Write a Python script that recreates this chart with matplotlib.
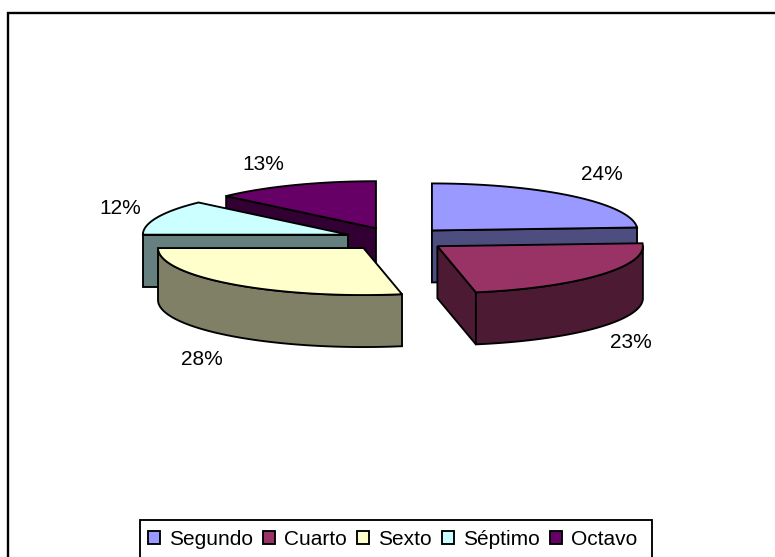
"""Exploded 3D pie chart, drawn by hand because matplotlib has no such pie."""

import matplotlib

matplotlib.use("Agg")
import matplotlib.pyplot as plt
import numpy as np
from matplotlib.patches import Patch, Polygon, Rectangle

CATEGORIES = ["Segundo", "Cuarto", "Sexto", "Séptimo", "Octavo"]
PERCENTS = [24, 23, 28, 12, 13]
COLORS = ["#9999FF", "#993366", "#FFFFCC", "#CCFFFF", "#660066"]

# pie geometry in pixels
CX, CY = 396.5, 239.0
RX, RY = 205.5, 47.0
DEPTH = 52.0
EXPLODE = 0.25
# per-label tweak on top of the computed spot
LABEL_NUDGE = [(-2, -3), (-5, 0), (-2, 3), (5, 1), (-13, 3)]

EDGE_LW = 1.35
FONT = ["Liberation Sans", "DejaVu Sans"]


def rim(theta, apex):
    """Point(s) on the pie rim; theta in degrees, clockwise from north."""
    t = np.radians(theta)
    return np.column_stack(
        [apex[0] + RX * np.sin(t), apex[1] - RY * np.cos(t)]
    )


def darker(color):
    """Excel shades the sides at half the brightness of the top."""
    return tuple(0.5 * c for c in matplotlib.colors.to_rgb(color))


def draw_slice(ax, start, end, apex, color):
    side = darker(color)
    drop = np.array([0, DEPTH])
    apex_pt = np.array([apex])

    # cut faces, only the ones turned to the viewer
    if np.sin(np.radians(start)) < -1e-6:
        p = rim(np.array([start]), apex)
        face = np.vstack([apex_pt, p, p + drop, apex_pt + drop])
        ax.add_patch(Polygon(face, fc=side, ec="k", lw=EDGE_LW))
    if np.sin(np.radians(end)) > 1e-6:
        p = rim(np.array([end]), apex)
        face = np.vstack([apex_pt, p, p + drop, apex_pt + drop])
        ax.add_patch(Polygon(face, fc=side, ec="k", lw=EDGE_LW))

    # outer wall, front half only
    lo, hi = max(start, 90), min(end, 270)
    if hi > lo:
        arc = rim(np.linspace(lo, hi, 60), apex)
        wall = np.vstack([arc, arc[::-1] + drop])
        ax.add_patch(Polygon(wall, fc=side, ec="k", lw=EDGE_LW))

    arc = rim(np.linspace(start, end, 80), apex)
    top = np.vstack([apex_pt, arc])
    ax.add_patch(Polygon(top, fc=color, ec="k", lw=EDGE_LW))


fig = plt.figure(figsize=(7.75, 5.57), dpi=100)
ax = fig.add_axes([0, 0, 1, 1])
ax.set_xlim(0, 775)
ax.set_ylim(557, 0)
ax.axis("off")

# chart border runs off the right and bottom of the picture
ax.add_patch(Rectangle((8, 13), 800, 600, fc="white", ec="k", lw=1.7))

edges = np.cumsum([0] + PERCENTS) * 3.6
mids = (edges[:-1] + edges[1:]) / 2
rad = np.radians(mids)
apex_x = CX + EXPLODE * 207 * np.sin(rad)
apex_y = CY - EXPLODE * RY * np.cos(rad)

# back to front
for i in np.argsort(apex_y):
    draw_slice(ax, edges[i], edges[i + 1], (apex_x[i], apex_y[i]), COLORS[i])

for i, pct in enumerate(PERCENTS):
    lx = apex_x[i] + 1.22 * RX * np.sin(rad[i]) + LABEL_NUDGE[i][0]
    ly = apex_y[i] - 1.55 * RY * np.cos(rad[i]) + LABEL_NUDGE[i][1]
    if np.cos(rad[i]) < 0:
        ly += DEPTH
    ax.text(lx, ly, f"{pct}%", ha="center", va="center", fontsize=15, family=FONT)

# legend box is cut by the bottom of the picture as well
ax.add_patch(Rectangle((140, 520), 512, 60, fc="white", ec="k", lw=EDGE_LW))
handles = [
    Patch(fc=c, ec="k", lw=EDGE_LW, label=name)
    for c, name in zip(COLORS, CATEGORIES)
]
leg = ax.legend(
    handles=handles,
    ncols=5,
    loc="upper left",
    bbox_to_anchor=(140, 522),
    bbox_transform=ax.transData,
    borderaxespad=0,
    borderpad=0.38,
    handlelength=0.57,
    handleheight=0.57,
    handletextpad=0.43,
    columnspacing=0.5,
    frameon=False,
    prop={"family": FONT, "size": 15.05},
)

fig.savefig("out.png", dpi=100)
